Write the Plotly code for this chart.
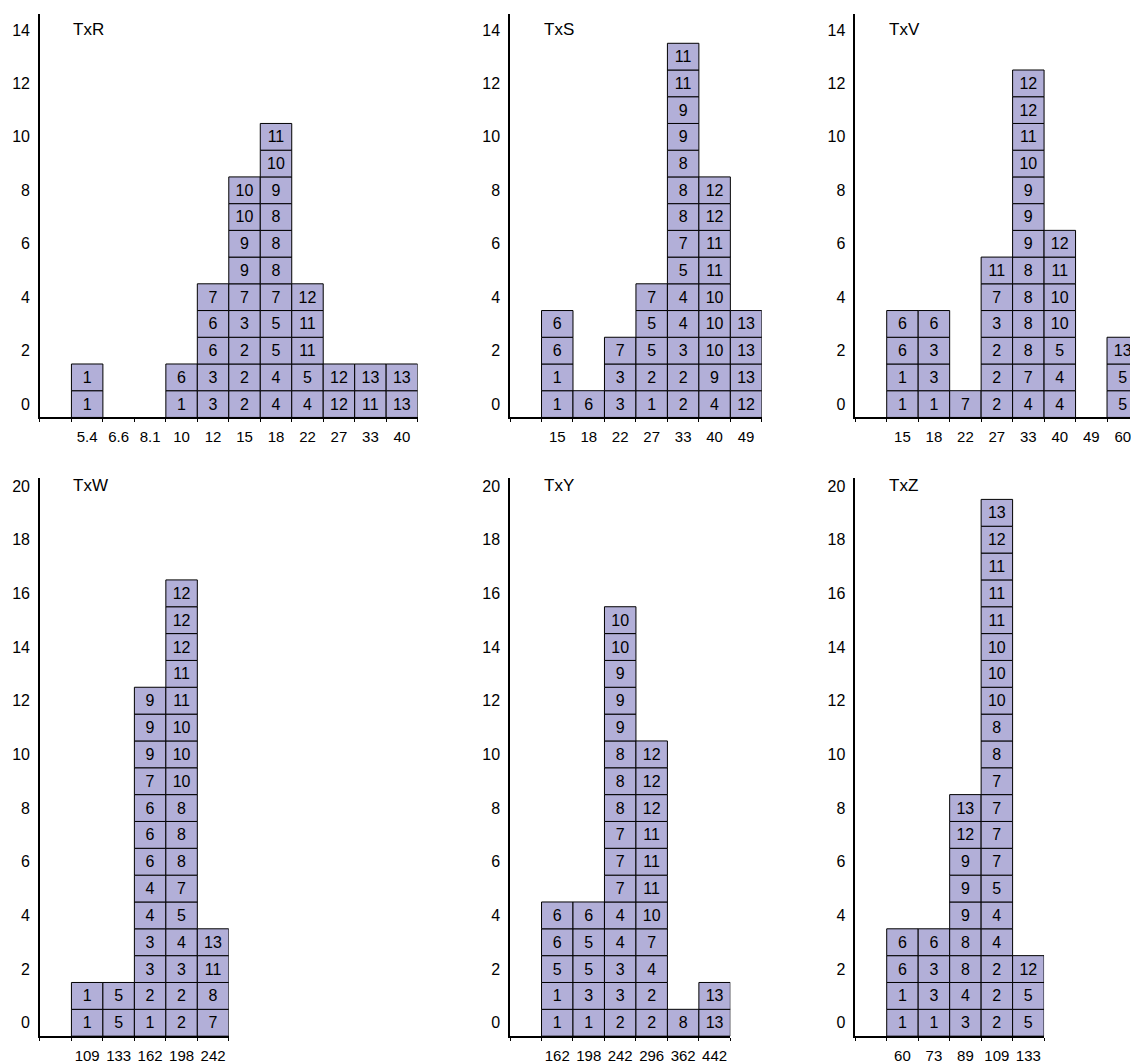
import plotly.graph_objects as go

# ---- data: each column lists the numbered boxes from bottom to top ----
txr_categories = ["5.4", "6.6", "8.1", "10", "12", "15", "18", "22", "27", "33", "40"]
txr_stacks = [
    [1, 1], [], [], [1, 6], [3, 3, 6, 6, 7],
    [2, 2, 2, 3, 7, 9, 9, 10, 10],
    [4, 4, 5, 5, 7, 8, 8, 8, 9, 10, 11],
    [4, 5, 11, 11, 12], [12, 12], [11, 13], [13, 13],
]

txs_categories = ["15", "18", "22", "27", "33", "40", "49"]
txs_stacks = [
    [1, 1, 6, 6], [6], [3, 3, 7], [1, 2, 5, 5, 7],
    [2, 2, 3, 4, 4, 5, 7, 8, 8, 8, 9, 9, 11, 11],
    [4, 9, 10, 10, 10, 11, 11, 12, 12],
    [12, 13, 13, 13],
]

txv_categories = ["15", "18", "22", "27", "33", "40", "49", "60"]
txv_stacks = [
    [1, 1, 6, 6], [1, 3, 3, 6], [7], [2, 2, 2, 3, 7, 11],
    [4, 7, 8, 8, 8, 8, 9, 9, 9, 10, 11, 12, 12],
    [4, 4, 5, 10, 10, 11, 12], [], [5, 5, 13],
]

txw_categories = ["109", "133", "162", "198", "242"]
txw_stacks = [
    [1, 1], [5, 5],
    [1, 2, 3, 3, 4, 4, 6, 6, 6, 7, 9, 9, 9],
    [2, 2, 3, 4, 5, 7, 8, 8, 8, 10, 10, 10, 11, 11, 12, 12, 12],
    [7, 8, 11, 13],
]

txy_categories = ["162", "198", "242", "296", "362", "442"]
txy_stacks = [
    [1, 1, 5, 6, 6], [1, 3, 5, 5, 6],
    [2, 3, 3, 4, 4, 7, 7, 7, 8, 8, 8, 9, 9, 9, 10, 10],
    [2, 2, 4, 7, 10, 11, 11, 11, 12, 12, 12],
    [8], [13, 13],
]

txz_categories = ["60", "73", "89", "109", "133"]
txz_stacks = [
    [1, 1, 6, 6], [1, 3, 3, 6],
    [3, 4, 8, 8, 9, 9, 9, 12, 13],
    [2, 2, 2, 4, 4, 5, 7, 7, 7, 7, 8, 8, 10, 10, 10, 11, 11, 11, 12, 13],
    [5, 5, 12],
]

panels = [
    ("TxR", txr_categories, txr_stacks, 0, 0),
    ("TxS", txs_categories, txs_stacks, 1, 0),
    ("TxV", txv_categories, txv_stacks, 2, 0),
    ("TxW", txw_categories, txw_stacks, 0, 1),
    ("TxY", txy_categories, txy_stacks, 1, 1),
    ("TxZ", txz_categories, txz_stacks, 2, 1),
]

# ---- layout geometry (pixels) ----
W, H = 1131, 1064
col_left = [40, 510.5, 856]
slot = 31.5
row_px = [(14, 421), (482, 1045)]          # (top, bottom) of each row
row_range = [(-0.5, 14.6), (-0.5, 20.3)]
row_title_y = [14, 20]
row_dtick = 2

FONT = "Liberation Sans, Arial, sans-serif"
FILL = "#b2afd8"

fig = go.Figure()
layout = dict(
    width=W, height=H,
    margin=dict(l=0, r=0, t=0, b=0),
    paper_bgcolor="white", plot_bgcolor="white",
    showlegend=False, barmode="overlay",
    font=dict(family=FONT, size=16, color="black"),
    annotations=[],
)

for i, (name, cats, stacks, col, row) in enumerate(panels):
    k = "" if i == 0 else str(i + 1)
    xs, bases, labels = [], [], []
    for ci, stack in enumerate(stacks):
        for level, val in enumerate(stack):
            xs.append(ci + 1)
            bases.append(level - 0.5)
            labels.append(str(val))
    fig.add_trace(go.Bar(
        x=xs, y=[1] * len(xs), base=bases, width=1,
        text=labels, textposition="inside", insidetextanchor="middle",
        textangle=0, constraintext="none",
        textfont=dict(family=FONT, size=16, color="black"),
        marker=dict(color=FILL, line=dict(color="black", width=1)),
        xaxis="x" + k, yaxis="y" + k, hoverinfo="skip",
    ))

    left = col_left[col]
    right = min(left + (len(cats) + 1) * slot, W)
    top, bottom = row_px[row]
    layout["xaxis" + k] = dict(
        domain=[left / W, right / W], anchor="y" + k,
        range=[-0.5, -0.5 + (right - left) / slot],
        tickmode="array", tickvals=list(range(1, len(cats) + 1)), ticktext=cats,
        ticks="", showgrid=False, zeroline=False,
        showline=True, linecolor="black", linewidth=1.5,
        tickfont=dict(family=FONT, size=15, color="black"),
        ticklabelstandoff=5, ticklabeloverflow="allow",
        minor=dict(tickmode="linear", tick0=0.5, dtick=1, ticks="outside",
                   ticklen=3, tickcolor="black", tickwidth=1, showgrid=False),
        fixedrange=True,
    )
    layout["yaxis" + k] = dict(
        domain=[1 - bottom / H, 1 - top / H], anchor="x" + k,
        range=list(row_range[row]), tickmode="linear", tick0=0, dtick=row_dtick,
        ticks="", showgrid=False, zeroline=False,
        showline=True, linecolor="black", linewidth=1.5,
        tickfont=dict(family=FONT, size=16, color="black"),
        ticklabelstandoff=5,
        fixedrange=True,
    )
    layout["annotations"].append(dict(
        text=name, x=0.5, y=row_title_y[row],
        xref="x" + k, yref="y" + k, xanchor="left", yanchor="middle",
        showarrow=False, font=dict(family=FONT, size=17, color="black"),
    ))

fig.update_layout(**layout)
fig.write_html("out.html")
